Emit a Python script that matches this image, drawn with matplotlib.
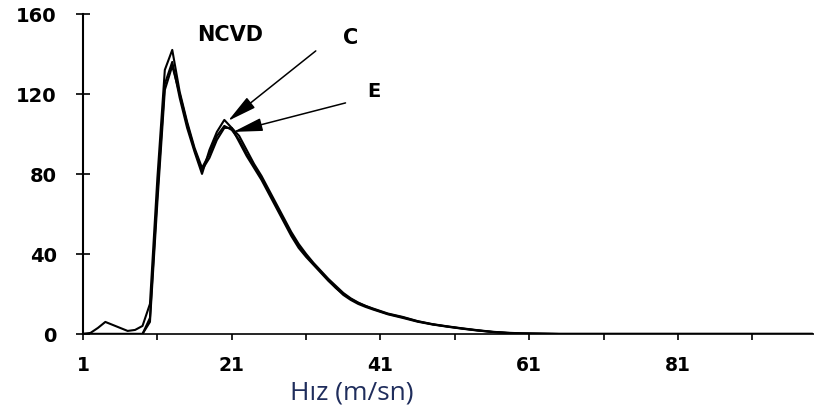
import matplotlib
matplotlib.use("Agg")
import matplotlib.pyplot as plt

# Speed (m/s) sample points
x_vals = [1, 2, 3, 4, 5, 6, 7, 8, 9, 10, 11, 12, 13, 14, 15, 16, 17, 18, 19, 20,
          21, 22, 23, 24, 25, 26, 27, 28, 29, 30, 31, 32, 33, 34, 35, 36, 37, 38, 39, 40,
          42, 44, 46, 48, 50, 52, 54, 56, 58, 60, 65, 70, 80, 90, 99]

ncvd = [0, 0.5, 3, 6, 4.5, 3, 1.5, 2, 4, 15, 78, 132, 142, 121, 106, 93, 83, 90, 99, 104,
        102, 97, 90, 84, 78, 71, 64, 57, 50, 44, 39, 35, 31, 27, 23, 20, 17.5, 15.5, 14, 12.5,
        10, 8.3, 6.3, 4.8, 3.7, 2.7, 1.8, 1, 0.5, 0.2, 0, 0, 0, 0, 0]

c_curve = [0, 0, 0, 0, 0, 0, 0, 0, 0, 8, 70, 125, 136, 118, 103, 91, 80, 92, 101, 107,
           103, 96, 89, 83, 77, 70, 63, 56, 49, 43, 38.5, 34.5, 30.5, 26.5, 23, 19.5, 17, 15, 13.5, 12.2,
           9.8, 8, 6.1, 4.7, 3.6, 2.6, 1.7, 1, 0.5, 0.2, 0, 0, 0, 0, 0]

e_curve = [0, 0, 0, 0, 0, 0, 0, 0, 0, 6, 66, 122, 134, 120, 105, 92, 82, 88, 97, 103,
           103, 99, 92, 85, 79, 72, 65, 58, 51, 45, 40, 35.5, 31.5, 27.5, 24, 20.5, 17.8, 15.7, 14, 12.7,
           10.2, 8.5, 6.4, 4.9, 3.8, 2.8, 1.9, 1.1, 0.6, 0.3, 0, 0, 0, 0, 0]

x_ticks = [1, 21, 41, 61, 81]
x_minor = [11, 31, 51, 71, 91]
y_ticks = [0, 40, 80, 120, 160]
x_label = "Hız (m/sn)"

fig = plt.figure(figsize=(8.14, 4.14), dpi=100)
ax = fig.add_axes([0.102, 0.191, 0.898, 0.773])

for series in (ncvd, c_curve, e_curve):
    ax.plot(x_vals, series, color="black", lw=1.5, solid_joinstyle="round")

ax.set_xlim(1, 99.3)
ax.set_ylim(0, 160)

for s in ("top", "right"):
    ax.spines[s].set_visible(False)
ax.spines["left"].set_linewidth(1.5)
ax.spines["bottom"].set_linewidth(1.2)

ax.set_xticks(x_ticks)
ax.set_xticks(x_minor, minor=True)
ax.set_yticks(y_ticks)
ax.tick_params(axis="x", which="both", direction="out", length=4, width=1.2, pad=11,
               labelsize=13.5)
ax.tick_params(axis="y", direction="inout", length=10, width=1.2, pad=14, labelsize=14)
for lab in ax.get_xticklabels() + ax.get_yticklabels():
    lab.set_fontweight("bold")

ax.set_xlabel(x_label, fontsize=19, color="#1f2d5c", family="Open Sans", va="center")
ax.xaxis.set_label_coords(0.368, -0.181)

ax.text(20.8, 150, "NCVD", fontsize=15, fontweight="bold", ha="center", va="center")
ax.text(37.0, 148.5, "C", fontsize=15, fontweight="bold", ha="center", va="center")
ax.text(40.1, 121.5, "E", fontsize=14, fontweight="bold", ha="center", va="center")

arrow_kw = dict(arrowstyle="-|>,head_length=0.9,head_width=0.2", color="black",
                lw=1.1, mutation_scale=20, shrinkA=0, shrinkB=0)
ax.annotate("", xy=(20.5, 106.5), xytext=(32.3, 141.5), arrowprops=arrow_kw)
ax.annotate("", xy=(21.2, 101), xytext=(36.3, 115.5), arrowprops=arrow_kw)

fig.savefig("out.png", dpi=100)
